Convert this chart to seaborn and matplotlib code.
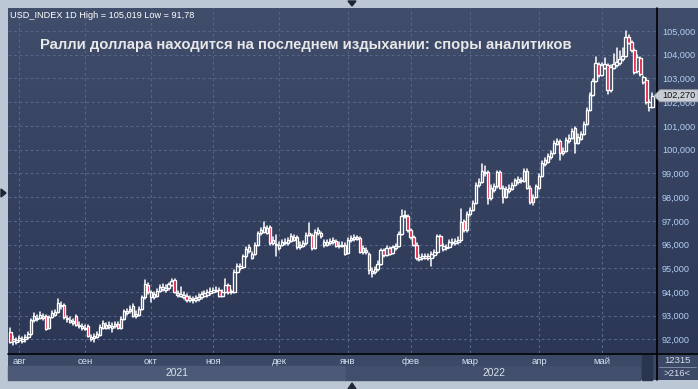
import numpy as np
import pandas as pd
import matplotlib
matplotlib.use("Agg")
import matplotlib.pyplot as plt
import seaborn as sns
from matplotlib.patches import Rectangle, Polygon
from matplotlib.transforms import blended_transform_factory
from matplotlib.colors import LinearSegmentedColormap

# ---------------- data ----------------
opens = [92.30, 91.92, 91.90, 91.98, 91.95, 92.00, 92.10, 92.25, 92.80, 92.85,
         92.90, 92.90, 93.00, 92.50, 92.95, 93.05, 93.15, 93.40, 93.45, 92.85,
         92.75, 92.70, 93.00, 92.55, 92.48, 92.45, 92.55, 92.02, 92.08, 92.12,
         92.20, 92.70, 92.50, 92.52, 92.50, 92.56, 92.66, 92.50, 92.85, 93.12,
         93.18, 93.42, 93.00, 93.05, 93.30, 93.78, 94.30, 93.78, 93.80, 93.85,
         94.05, 94.12, 94.10, 94.18, 94.30, 94.50, 93.88, 93.85, 93.80, 93.85,
         93.66, 93.65, 93.68, 93.70, 93.78, 93.85, 93.88, 93.95, 94.02, 94.05,
         94.10, 93.85, 94.00, 94.30, 93.98, 93.98, 94.85, 95.00, 95.05, 95.50,
         95.90, 95.45, 95.60, 96.00, 96.48, 96.55, 96.50, 96.75, 96.05, 95.98,
         95.85, 96.00, 96.05, 96.08, 96.15, 96.20, 96.30, 95.88, 95.95, 96.05,
         96.40, 96.40, 95.85, 96.50, 96.35, 95.98, 96.00, 96.05, 96.10, 96.15,
         95.95, 95.95, 95.98, 95.65, 96.20, 96.22, 96.25, 96.27, 95.70, 95.70,
         95.60, 94.82, 94.85, 94.95, 95.20, 95.75, 95.55, 95.85, 95.65, 95.85,
         95.92, 96.45, 97.20, 97.20, 96.60, 96.30, 96.00, 95.40, 95.42, 95.45,
         95.45, 95.45, 95.55, 95.68, 96.35, 95.80, 95.85, 95.90, 96.05, 96.08,
         96.10, 96.20, 97.00, 96.60, 97.30, 97.45, 97.75, 98.50, 98.65, 99.00,
         99.05, 97.95, 98.30, 98.45, 99.05, 98.40, 98.00, 98.25, 98.35, 98.50,
         98.62, 98.68, 98.70, 99.12, 98.40, 97.80, 98.00, 98.40, 98.90, 99.40,
         99.50, 99.70, 99.85, 100.25, 100.35, 99.85, 99.95, 100.35, 100.50, 100.90,
         100.30, 100.45, 100.65, 101.10, 101.68, 102.30, 102.90, 103.60, 103.15, 103.45,
         103.55, 102.50, 103.45, 103.55, 103.65, 103.80, 103.95, 104.75, 104.55, 104.20,
         103.30, 103.85, 102.85, 102.95, 101.78, 101.80]
highs = [92.50, 92.15, 92.08, 92.15, 92.10, 92.20, 92.30, 92.88, 93.12, 93.05,
         93.15, 93.08, 93.05, 93.00, 93.18, 93.25, 93.72, 93.60, 93.50, 93.00,
         92.95, 92.88, 93.05, 92.72, 92.65, 92.60, 92.60, 92.18, 92.22, 92.30,
         92.60, 92.78, 92.70, 92.72, 92.68, 92.75, 92.72, 92.95, 93.25, 93.30,
         93.40, 93.48, 93.18, 93.38, 93.85, 94.50, 94.38, 94.05, 94.00, 94.12,
         94.30, 94.32, 94.28, 94.40, 94.55, 94.55, 94.05, 94.20, 93.98, 93.92,
         93.82, 93.80, 93.85, 93.90, 94.00, 94.05, 94.10, 94.15, 94.18, 94.20,
         94.15, 94.10, 94.55, 94.35, 94.10, 94.92, 95.18, 95.20, 95.58, 95.90,
         95.98, 95.70, 96.08, 96.55, 96.70, 96.94, 96.80, 96.80, 96.30, 96.40,
         96.10, 96.20, 96.22, 96.28, 96.45, 96.42, 96.35, 96.10, 96.15, 96.50,
         96.90, 96.45, 96.62, 96.70, 96.55, 96.20, 96.18, 96.25, 96.28, 96.20,
         96.10, 96.12, 96.05, 96.28, 96.38, 96.40, 96.38, 96.32, 95.95, 95.85,
         95.65, 95.00, 95.05, 95.30, 95.82, 95.80, 95.92, 95.90, 95.95, 96.02,
         96.52, 97.44, 97.40, 97.25, 96.65, 96.35, 96.05, 95.58, 95.60, 95.62,
         95.60, 95.68, 95.78, 96.42, 96.40, 96.02, 96.00, 96.18, 96.22, 96.25,
         96.30, 97.50, 97.05, 97.38, 97.55, 97.85, 98.58, 98.75, 99.40, 99.30,
         99.10, 98.50, 98.55, 99.12, 99.10, 98.45, 98.42, 98.50, 98.60, 98.78,
         98.85, 98.82, 99.20, 99.18, 98.45, 98.10, 98.52, 98.98, 99.52, 99.65,
         99.80, 99.95, 100.38, 100.45, 100.40, 100.05, 100.48, 100.60, 100.86, 100.95,
         100.65, 100.75, 101.18, 101.75, 102.38, 102.98, 103.90, 103.65, 103.65, 103.85,
         103.60, 103.58, 104.05, 104.30, 104.15, 104.30, 105.019, 104.85, 104.60, 104.25,
         103.98, 103.90, 103.12, 103.00, 102.08, 102.40]
lows = [91.85, 91.78, 91.82, 91.90, 91.85, 91.90, 92.02, 92.20, 92.72, 92.78,
        92.85, 92.82, 92.40, 92.45, 92.90, 92.98, 93.10, 93.30, 92.88, 92.75,
        92.68, 92.62, 92.55, 92.48, 92.40, 92.38, 92.10, 91.95, 91.90, 92.05,
        92.15, 92.45, 92.45, 92.45, 92.30, 92.50, 92.45, 92.45, 92.80, 93.05,
        93.10, 92.95, 92.92, 93.00, 93.25, 93.72, 93.90, 93.60, 93.72, 93.80,
        94.00, 94.05, 94.02, 94.10, 94.25, 93.95, 93.80, 93.78, 93.72, 93.60,
        93.58, 93.55, 93.60, 93.62, 93.70, 93.78, 93.80, 93.88, 93.95, 93.98,
        93.78, 93.80, 93.95, 93.92, 93.90, 93.95, 94.80, 94.92, 95.00, 95.45,
        95.65, 95.38, 95.55, 95.95, 96.40, 96.50, 96.45, 96.00, 95.98, 95.50,
        95.78, 95.92, 95.98, 96.00, 96.10, 96.15, 95.80, 95.80, 95.88, 96.00,
        96.35, 95.78, 95.80, 96.42, 96.28, 95.90, 95.92, 95.98, 96.02, 95.88,
        95.85, 95.88, 95.55, 95.60, 96.12, 96.15, 96.18, 95.65, 95.62, 95.60,
        94.75, 94.62, 94.75, 94.90, 95.15, 95.48, 95.50, 95.55, 95.60, 95.78,
        95.88, 96.40, 97.10, 96.55, 96.25, 95.92, 95.35, 95.32, 95.35, 95.38,
        95.35, 95.10, 95.48, 95.62, 95.92, 95.72, 95.78, 95.85, 95.98, 96.00,
        96.02, 96.15, 96.52, 96.55, 97.22, 97.40, 97.70, 98.42, 98.60, 98.90,
        97.70, 97.88, 98.22, 98.40, 98.35, 97.75, 97.95, 98.18, 98.28, 98.45,
        98.55, 98.60, 98.65, 98.35, 97.70, 97.68, 97.95, 98.35, 98.85, 99.32,
        99.45, 99.62, 99.80, 100.18, 99.55, 99.78, 99.90, 100.28, 100.45, 99.85,
        100.22, 100.40, 100.60, 101.05, 101.62, 102.25, 102.85, 103.08, 103.10, 103.40,
        102.35, 102.45, 103.40, 103.48, 103.58, 103.75, 103.90, 104.45, 104.12, 103.20,
        103.25, 103.12, 102.78, 101.92, 101.62, 101.75]
closes = [91.90, 92.02, 91.98, 92.05, 92.00, 92.10, 92.22, 92.80, 93.00, 92.92,
          93.05, 92.98, 92.45, 92.95, 93.10, 93.15, 93.55, 93.45, 92.95, 92.90,
          92.82, 92.78, 92.60, 92.62, 92.55, 92.50, 92.15, 92.10, 92.15, 92.22,
          92.52, 92.50, 92.62, 92.60, 92.58, 92.66, 92.50, 92.88, 93.18, 93.20,
          93.28, 93.00, 93.08, 93.30, 93.78, 94.35, 94.00, 93.98, 93.90, 94.05,
          94.20, 94.22, 94.18, 94.32, 94.48, 94.00, 93.95, 93.92, 93.88, 93.68,
          93.74, 93.72, 93.76, 93.80, 93.92, 93.95, 94.02, 94.05, 94.08, 94.10,
          93.85, 94.02, 94.30, 94.00, 94.02, 94.85, 95.10, 95.08, 95.50, 95.80,
          95.72, 95.60, 96.00, 96.48, 96.60, 96.75, 96.70, 96.05, 96.18, 96.02,
          96.00, 96.10, 96.12, 96.18, 96.35, 96.32, 95.88, 96.00, 96.05, 96.40,
          96.48, 95.85, 96.55, 96.60, 96.48, 96.10, 96.10, 96.15, 96.18, 95.95,
          96.00, 96.00, 95.62, 96.20, 96.28, 96.30, 96.27, 95.70, 95.85, 95.75,
          94.92, 94.90, 94.95, 95.20, 95.75, 95.55, 95.85, 95.62, 95.88, 95.92,
          96.45, 97.20, 97.25, 96.60, 96.30, 95.98, 95.42, 95.48, 95.50, 95.52,
          95.50, 95.60, 95.68, 96.35, 96.00, 95.92, 95.90, 96.10, 96.12, 96.15,
          96.20, 96.95, 96.60, 97.30, 97.45, 97.75, 98.50, 98.65, 99.10, 99.05,
          97.95, 98.40, 98.45, 99.05, 98.40, 98.00, 98.35, 98.40, 98.50, 98.70,
          98.75, 98.72, 99.12, 98.40, 97.80, 98.00, 98.45, 98.90, 99.45, 99.55,
          99.72, 99.85, 100.30, 100.35, 99.85, 99.95, 100.40, 100.50, 100.78, 100.30,
          100.55, 100.65, 101.10, 101.68, 102.30, 102.90, 103.65, 103.15, 103.55, 103.60,
          102.50, 103.50, 103.60, 103.70, 103.80, 103.95, 104.75, 104.50, 104.20, 103.28,
          103.90, 103.20, 103.05, 102.00, 102.00, 102.27]

start_date = "2021-07-28"
month_labels = ["авг", "сен", "окт", "ноя", "дек", "янв", "фев", "мар", "апр", "май"]
price_ticks = [92, 93, 94, 95, 96, 97, 98, 99, 100, 101, 102, 103, 104, 105]
year_labels = ["2021", "2022"]
title_text = "Ралли доллара находится на последнем издыхании: споры аналитиков"
header_text = "USD_INDEX 1D High = 105,019 Low = 91,78"
last_price = 102.270
corner_top = "12315"
corner_bottom = ">216<"

# ---------------- frame ----------------
sns.set_theme(style="dark")
plt.rcParams["font.family"] = ["Liberation Sans", "DejaVu Sans"]

W, H = 698, 389
fig = plt.figure(figsize=(W / 100, H / 100), dpi=100)
fig.patch.set_facecolor("#bcc7d6")


def fr(x0, y0, x1, y1):
    """pixel box (top-left origin) -> figure fraction rect"""
    return [x0 / W, 1 - y1 / H, (x1 - x0) / W, (y1 - y0) / H]


# gradient background for plot + right scale
bg = fig.add_axes(fr(8, 8, 698, 353))
bg.set_axis_off()
cmap = LinearSegmentedColormap.from_list("g", ["#2b3754", "#404d6b"])
bg.imshow(np.linspace(0, 1, 256)[:, None], aspect="auto", cmap=cmap,
          origin="lower", extent=[0, 1, 0, 1])

# bottom panel
bot = fig.add_axes(fr(8, 353, 698, 380))
bot.set_axis_off()
bot.set_xlim(0, 1)
bot.set_ylim(0, 1)
bot.add_patch(Rectangle((0, 0), 1, 1, color="#3b4866"))

ax = fig.add_axes(fr(8, 8, 656, 353))
ax.patch.set_alpha(0)
xmin, xmax = -0.8, 216.2
ax.set_xlim(xmin, xmax)
ax.set_ylim(91.43, 105.97)

df = pd.DataFrame({"date": pd.bdate_range(start_date, periods=len(closes)),
                   "open": opens, "high": highs, "low": lows, "close": closes})
df["i"] = np.arange(len(df))
per = df["date"].dt.to_period("M")
month_pos = df.groupby(per)["i"].min()
month_pos = month_pos[month_pos.index >= pd.Period("2021-08", "M")].values
year_start = int(df.loc[df["date"] >= "2022-01-01", "i"].min())

# grid
gridc = "#56658a"
for p in price_ticks:
    ax.axhline(p, color=gridc, lw=0.8, ls=(0, (2.5, 2.5)), zorder=1)
for m in month_pos:
    ax.axvline(m, color=gridc, lw=0.8, ls=(0, (2.5, 2.5)), zorder=1)

# wicks (seaborn)
wick = pd.DataFrame({"i": np.repeat(df["i"].values, 2),
                     "price": np.column_stack([df["low"], df["high"]]).ravel()})
sns.lineplot(data=wick, x="i", y="price", units="i", estimator=None,
             color="white", lw=1.1, ax=ax, legend=False, zorder=2)

# bodies
up = df["close"] >= df["open"]
body_h = (df["close"] - df["open"]).abs().clip(lower=0.05)
body_b = df[["open", "close"]].min(axis=1)
ax.bar(df["i"], body_h, bottom=body_b, width=0.8,
       color=np.where(up, "#33405e", "#e0143c"), edgecolor="white",
       linewidth=0.95, zorder=3)

ax.set_xlabel("")
ax.set_ylabel("")
for s in ax.spines.values():
    s.set_visible(False)

# y scale on right
ax.set_yticks(price_ticks, labels=[f"{p:.3f}".replace(".", ",") for p in price_ticks])
ax.yaxis.tick_right()
ax.tick_params(axis="y", length=0, pad=4.3, labelsize=6.6, labelcolor="#b2cff6")
ax.set_xticks(month_pos, labels=month_labels)
ax.tick_params(axis="x", length=0, pad=2.6, labelsize=6.8, labelcolor="#d6e1f1")
ax.grid(False)

# year band
bt = blended_transform_factory(ax.transData, fig.transFigure)
y0f, y1f = 1 - 380 / H, 1 - 366 / H
fig.add_artist(Rectangle((xmin, y0f), year_start - 0.5 - xmin, y1f - y0f,
                         transform=bt, color="#4c5a77", zorder=1))
fig.add_artist(Rectangle((year_start - 0.5, y0f), 211.5 - year_start, y1f - y0f,
                         transform=bt, color="#414f6c", zorder=1))
fig.text((xmin + year_start - 0.5) / 2, 1 - 373 / H, year_labels[0],
         transform=bt, ha="center", va="center", fontsize=7.4,
         color="#d8e0ec", zorder=4)
fig.text((year_start - 0.5 + 211.5) / 2, 1 - 373 / H, year_labels[1],
         transform=bt, ha="center", va="center", fontsize=7.4,
         color="#d8e0ec", zorder=4)
# scroll block
fig.add_artist(Rectangle((642 / W, 1 - 380 / H), 10 / W, 25 / H,
                         transform=fig.transFigure, color="#2a3550", zorder=2))

# black separators
fig.add_artist(plt.Line2D([656.5 / W, 656.5 / W], [1 - 8 / H, 1 - 380 / H],
                          transform=fig.transFigure, color="black", lw=1.2, zorder=3))
fig.add_artist(plt.Line2D([8 / W, 698 / W], [1 - 353.5 / H, 1 - 353.5 / H],
                          transform=fig.transFigure, color="black", lw=1.2, zorder=3))
fig.add_artist(plt.Line2D([659 / W, 696 / W], [1 - 367 / H, 1 - 367 / H],
                          transform=fig.transFigure, color="#8a96ad", lw=0.6, zorder=3))

# corner texts
fig.text(677 / W, 1 - 360.5 / H, corner_top, ha="center", va="center",
         fontsize=6.8, color="#d8e0ec", zorder=4)
fig.text(677 / W, 1 - 374 / H, corner_bottom, ha="center", va="center",
         fontsize=6.8, color="#d8e0ec", zorder=4)

# last price tag
yt = ax.transData.transform((0, last_price))[1] / H
ph = 12 / H
fig.add_artist(Polygon([[654 / W, yt], [660 / W, yt + ph / 2], [698 / W, yt + ph / 2],
                        [698 / W, yt - ph / 2], [660 / W, yt - ph / 2]],
                       closed=True, transform=fig.transFigure,
                       facecolor="#c9ced6", edgecolor="#9aa3b0", lw=0.6, zorder=5))
fig.text(679 / W, yt, f"{last_price:.3f}".replace(".", ","), ha="center",
         va="center", fontsize=6.6, color="#111111", zorder=6)

# header and title
fig.text(10 / W, 1 - 15 / H, header_text, ha="left", va="center",
         fontsize=6.6, color="white", zorder=4)
fig.text(40 / W, 1 - 45 / H, title_text, ha="left", va="center",
         fontsize=10.75, fontweight="bold", color="#e8e8e8", zorder=4)

# small navigation triangles
for pts in ([[348, 1], [356, 1], [352, 6]],
            [[348, 389], [356, 389], [352, 383]],
            [[1, 189], [1, 197], [6, 193]]):
    fig.add_artist(Polygon([[x / W, 1 - y / H] for x, y in pts], closed=True,
                           transform=fig.transFigure, color="#1e2535"))

fig.savefig("out.png", dpi=100, facecolor=fig.get_facecolor())
